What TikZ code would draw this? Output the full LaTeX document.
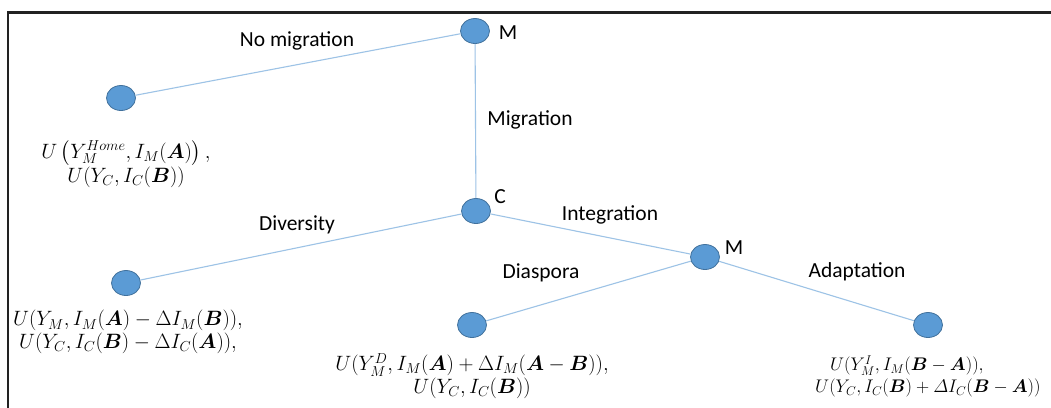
\documentclass[tikz,border=0pt]{standalone}
\usepackage{amsmath}
\usepackage{graphicx}
\usepackage{fontspec}
\setmainfont{Carlito}
\usetikzlibrary{shapes.geometric}
\definecolor{dotfill}{HTML}{5B9BD5}
\definecolor{dotedge}{HTML}{41719C}
\definecolor{edgeblue}{HTML}{9DC3E6}
\definecolor{frame}{HTML}{222222}
\tikzset{
  dot/.style={ellipse, minimum width=29pt, minimum height=25pt, inner sep=0pt, fill=dotfill, draw=dotedge, line width=0.8pt},
  link/.style={draw=edgeblue, line width=1.1pt},
  lbl/.style={font=\fontsize{21.5}{24}\selectfont, inner sep=0pt, text=black},
  formula/.style={font=\fontsize{20.7}{22.5}\selectfont, inner sep=0pt, align=center, text=black}
}
\begin{document}
\begin{tikzpicture}[x=1pt, y=-1pt]
\useasboundingbox (0,0) rectangle (1051,407);
\clip (0,0) rectangle (1051,407);
\fill[white] (0,0) rectangle (1051,407);
\draw[frame, line width=2.4pt] (8,420) -- (8,12.5) -- (1070,12.5);

% nodes
\node[dot] (m1) at (475,31) {};
\node[dot] (l1) at (121,98) {};
\node[dot] (c) at (476,211) {};
\node[dot] (ld) at (126,283) {};
\node[dot] (m2) at (705,257) {};
\node[dot] (ldi) at (472,325) {};
\node[dot] (la) at (928,325) {};

% connectors
\path[link] (m1) -- (l1);
\path[link] (m1) -- (c);
\path[link] (c) -- (ld);
\path[link] (c) -- (m2);
\path[link] (m2) -- (ldi);
\path[link] (m2) -- (la);

% node letters
\node[lbl] (tm1) at (508,33) {M};
\node[lbl] (tc) at (500,197) {C};
\node[lbl] (tm2) at (734,248) {M};

% edge labels
\node[lbl] (tno) at (297,41) {No migration};
\node[lbl] (tmig) at (530,120) {Migration};
\node[lbl] (tdiv) at (297,225) {Diversity};
\node[lbl] (tint) at (610,215) {Integration};
\node[lbl] (tdia) at (541,273) {Diaspora};
\node[lbl] (tada) at (857,272) {Adaptation};

% outcomes
\node[formula] (f1) at (126,164) {$U\left(Y_M^{Home}, I_M(\boldsymbol{A})\right),$\\[0pt] $U(Y_C, I_C(\boldsymbol{B}))$};
\node[formula] (f2) at (128,332) {$U(Y_M, I_M(\boldsymbol{A}) - \Delta I_M(\boldsymbol{B})),$\\ $U(Y_C, I_C(\boldsymbol{B}) - \Delta I_C(\boldsymbol{A})),$};
\node[formula] (f3) at (472,376) {$U(Y_M^D, I_M(\boldsymbol{A}) + \Delta I_M(\boldsymbol{A} - \boldsymbol{B})),$\\ $U(Y_C, I_C(\boldsymbol{B}))$};
\node[formula, anchor=west] (f5) at (815,377) {\scalebox{0.88}{\begin{tabular}{@{}l@{}}\hspace{17pt}$U(Y_M^I, I_M(\boldsymbol{B} - \boldsymbol{A})),$\\[2pt] $U(Y_C, I_C(\boldsymbol{B}) + \varDelta I_C(\boldsymbol{B} - \boldsymbol{A}))$\end{tabular}}};
\end{tikzpicture}
\end{document}
